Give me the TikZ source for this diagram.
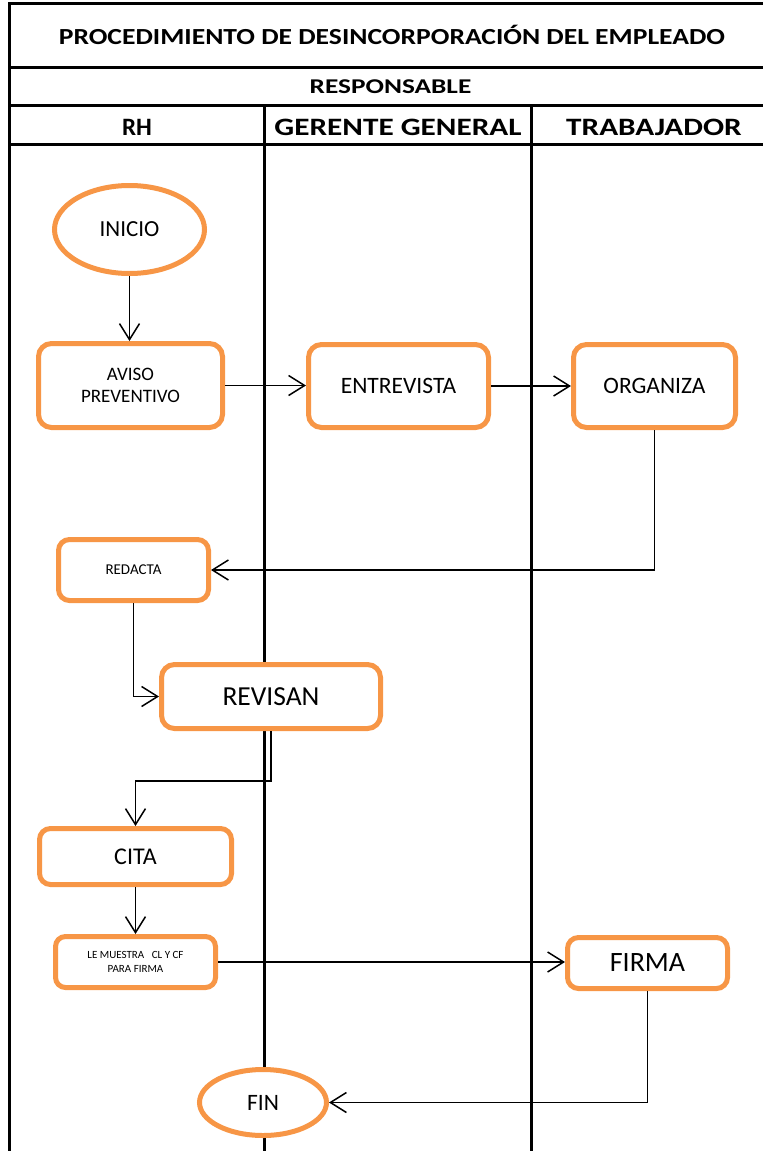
\documentclass[tikz,border=0pt]{standalone}
\usepackage{fontspec}
\setmainfont{Carlito}
\newfontfamily\titlefont[FakeStretch=1.2]{Carlito}
\newfontfamily\respfont[FakeStretch=1.3]{Carlito}
\newfontfamily\lanefont[FakeStretch=1.25]{Carlito}
\usetikzlibrary{arrows.meta,shapes.geometric,calc}
\definecolor{flowOrange}{HTML}{F79646}

\begin{document}
\begin{tikzpicture}[x=1pt,y=-1pt,
  task/.style={draw=flowOrange, line width=5pt, rounded corners=13pt, fill=white,
               inner sep=0pt, align=center, text=black},
  term/.style={ellipse, draw=flowOrange, line width=5pt, fill=white, inner sep=0pt,
               text=black},
  flow/.style={line width=1.5pt, -{Straight Barb[length=16pt,width=20pt,line width=1.5pt]}},
  rule/.style={line width=3pt},
  fs/.style={font=\fontsize{#1}{#1}\selectfont}
]
\useasboundingbox (0,0) rectangle (763,1151);

% table frame and header rows
\draw[rule] (9,1151) -- (9,3) -- (763,3);
\draw[rule] (9,67) -- (763,67);
\draw[rule] (9,105) -- (763,105);
\draw[rule] (9,144) -- (763,144);
% swimlane dividers
\draw[rule] (264,105) -- (264,1151);
\draw[rule] (531,105) -- (531,1151);

% header texts
\node[font=\titlefont\bfseries\fontsize{23}{23}\selectfont] (title) at (392,35)
  {PROCEDIMIENTO DE DESINCORPORACIÓN DEL EMPLEADO};
\node[font=\respfont\bfseries\fontsize{21}{21}\selectfont] (resp) at (390.5,87) {RESPONSABLE};
\node[font=\bfseries\fontsize{25}{25}\selectfont] (laneRH) at (137,127) {RH};
\node[font=\lanefont\bfseries\fontsize{25}{25}\selectfont] (laneGG) at (398,127) {GERENTE GENERAL};
\node[font=\lanefont\bfseries\fontsize{25}{25}\selectfont] (laneTR) at (654,127) {TRABAJADOR};

% step positions
\coordinate (inicioC) at (129.5,229.5);
\coordinate (avisoC) at (130.5,385.5);
\coordinate (entrevistaC) at (398.5,386);
\coordinate (organizaC) at (654.5,386);
\coordinate (redactaC) at (133.5,570);
\coordinate (revisanC) at (271,696.5);
\coordinate (citaC) at (135.5,856.5);
\coordinate (muestraC) at (135.5,962);
\coordinate (firmaC) at (647.5,963);
\coordinate (finC) at (263,1102.5);

% flow steps
\node[term, minimum width=150pt, minimum height=88pt, fs=23] (inicio) at (inicioC) {INICIO};
\node[task, minimum width=184pt, minimum height=84pt,
      font=\fontsize{19}{22}\selectfont] (aviso) at (avisoC) {AVISO\\PREVENTIVO};
\node[task, minimum width=180pt, minimum height=83pt, fs=23.5] (entrevista) at (entrevistaC) {ENTREVISTA};
\node[task, minimum width=162pt, minimum height=83pt, fs=23.5] (organiza) at (organizaC) {ORGANIZA};
\node[task, minimum width=150pt, minimum height=61pt, rounded corners=11pt, fs=15] (redacta) at (redactaC) {REDACTA};
\node[task, minimum width=219pt, minimum height=64pt, fs=27.5] (revisan) at (revisanC) {REVISAN};
\node[task, minimum width=192pt, minimum height=56pt, rounded corners=11pt, fs=24] (cita) at (citaC) {CITA};
\node[task, minimum width=160pt, minimum height=51pt, rounded corners=10pt,
      font=\fontsize{11}{14}\selectfont] (muestra) at (muestraC) {LE MUESTRA \ \ CL Y CF\\PARA FIRMA};
\node[task, minimum width=160pt, minimum height=51pt, rounded corners=11pt, fs=28] (firma) at (firmaC) {FIRMA};
\node[term, minimum width=127pt, minimum height=66pt, fs=23.5] (fin) at (finC) {FIN};

% connectors
\draw[flow] (inicio.south) -- (inicio.south |- aviso.north);
\draw[flow] (aviso.east) -- (aviso.east -| entrevista.west);
\draw[flow] (entrevista.east) -- (entrevista.east -| organiza.west);
\draw[flow] (organiza.south) |- (redacta.east);
\draw[flow] (redacta.south) |- (revisan.west);
\draw[flow] (revisan.south) -- ++(0,50) -| (cita.north);
\draw[flow] (cita.south) -- (muestra.north);
\draw[flow] (muestra.east) -- (muestra.east -| firma.west);
\draw[flow] (firma.south) |- (fin.east);
\end{tikzpicture}
\end{document}
